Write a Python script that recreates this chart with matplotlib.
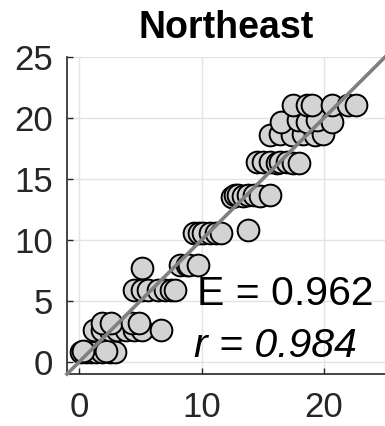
import matplotlib.pyplot as plt
import numpy as np

sim = [0.15, 0.55, 1.0, 1.4, 1.9, 2.5, 2.9, 0.3, 2.2,
       1.2, 1.9, 2.5, 3.1, 3.8, 4.5, 5.1, 6.7, 1.9, 2.6, 4.3, 4.9,
       4.5, 5.1, 5.6, 6.4, 7.0, 7.5, 7.8, 5.1,
       8.2, 8.8, 9.0, 9.7,
       9.4, 9.8, 10.1, 10.7, 11.2, 11.6, 13.8,
       12.5, 12.7, 13.0, 13.4, 13.8, 14.3, 14.8, 15.6,
       14.5, 15.0, 15.6, 16.2, 16.4, 17.0, 17.5, 18.0,
       15.6, 16.4, 17.4, 18.3, 19.3, 19.9,
       16.5, 17.9, 18.6, 19.4, 20.7,
       17.5, 18.6, 19.0, 20.7, 22.0, 22.6]
obs = [0.8, 0.8, 0.8, 0.8, 0.8, 0.8, 0.8, 0.9, 0.9,
       2.6, 2.6, 2.6, 2.6, 2.6, 2.6, 2.6, 2.6, 3.2, 3.2, 3.2, 3.2,
       5.9, 5.9, 5.9, 5.9, 5.9, 5.9, 5.9, 7.7,
       7.95, 7.95, 7.95, 7.95,
       10.6, 10.6, 10.6, 10.6, 10.6, 10.6, 10.8,
       13.5, 13.7, 13.7, 13.6, 13.7, 13.7, 13.6, 13.7,
       16.4, 16.4, 16.4, 16.3, 16.4, 16.4, 16.3, 16.3,
       18.6, 18.7, 18.6, 18.7, 18.6, 18.7,
       19.7, 19.8, 19.7, 19.8, 19.7,
       21.1, 21.1, 21.1, 21.1, 21.1, 21.1]
x_ticks = [0, 10, 20]
y_ticks = [0, 5, 10, 15, 20, 25]
one_to_one = [-1, 25]

plt.rcParams['font.family'] = 'Liberation Sans'

fig = plt.figure(figsize=(3.85, 4.26), dpi=100)
ax = fig.add_axes([0.174, 0.122, 0.826, 0.744])

ax.scatter(sim, obs, s=245, c='#d3d3d3', edgecolors='black', linewidths=1.4, zorder=3)
ax.plot(one_to_one, one_to_one, color='#808080', lw=2.6, zorder=4, clip_on=False)

ax.set_xlim(-1, 25)
ax.set_ylim(-1, 25)
ax.set_xticks(x_ticks)
ax.set_yticks(y_ticks)
ax.grid(True, color='#e3e3e3', lw=1)
ax.set_axisbelow(True)
ax.spines['top'].set_visible(False)
ax.spines['right'].set_visible(False)
for s in ['left', 'bottom']:
    ax.spines[s].set_color('#262626')
    ax.spines[s].set_linewidth(1.2)
ax.tick_params(direction='in', length=4, width=1, colors='#262626', labelsize=25)
ax.tick_params(axis='x', pad=12)
ax.tick_params(axis='y', pad=10)

ax.set_title('Northeast', fontsize=27, fontweight='bold', pad=14)
ax.text(9.6, 4.7, 'E = 0.962', fontsize=29.5, color='black', zorder=5)
ax.text(9.4, 0.4, 'r = 0.984', fontsize=29.5, style='italic', color='black', zorder=5)

fig.savefig('out.png', dpi=100)
